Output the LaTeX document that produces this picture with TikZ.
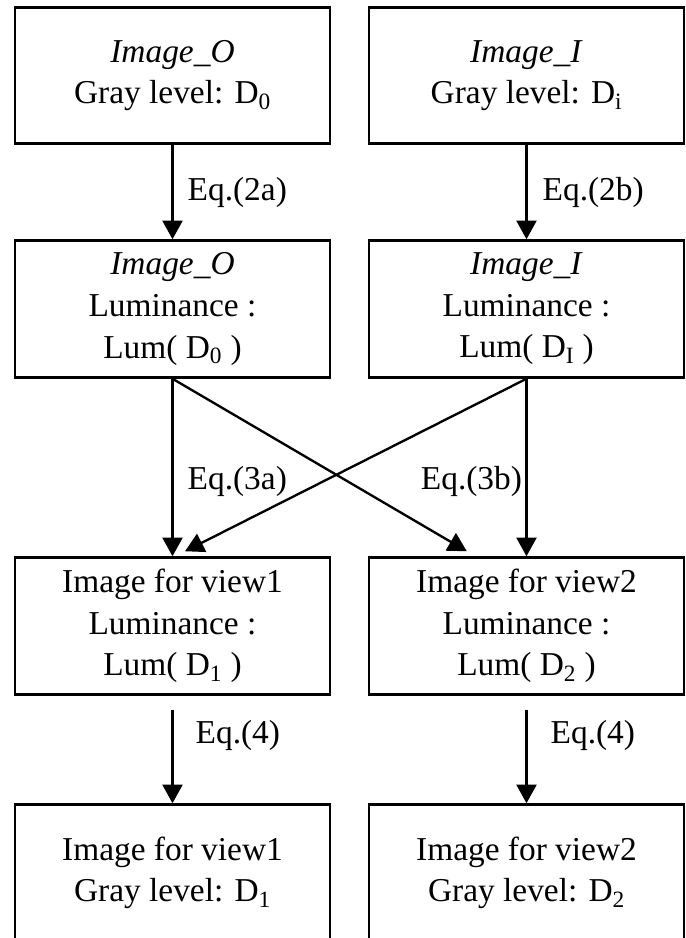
\documentclass[tikz,border=0pt]{standalone}
\usepackage{fontspec}
\setmainfont{Liberation Serif}
\usetikzlibrary{arrows.meta,calc}

\begin{document}
\begin{tikzpicture}[
      box/.style={draw, line width=2.4pt, align=center, inner sep=0pt, minimum width=9.45cm, minimum height=4.1cm, font=\fontsize{28.5}{35.5}\selectfont},
      eq/.style={inner sep=0pt, font=\fontsize{28.5}{35.5}\selectfont},
      arr/.style={-{Triangle[length=0.56cm,width=0.6cm]}, line width=2pt}
    ]
    \path[use as bounding box, clip] (0,0) rectangle (20.58,28.14);
    \node[box] (go) at (5.175,25.875) {\textit{Image\_O}\\Gray level: D\textsubscript{0}};
    \node[box] (gi) at (15.795,25.875) {\textit{Image\_I}\\Gray level: D\textsubscript{i}};
    \node[box] (lo) at (5.175,18.87) {\textit{Image\_O}\\Luminance :\\Lum( D\textsubscript{0} )};
    \node[box] (li) at (15.795,18.87) {\textit{Image\_I}\\Luminance :\\Lum( D\textsubscript{I} )};
    \node[box] (l1) at (5.175,9.36) {Image for view1\\Luminance :\\Lum( D\textsubscript{1} )};
    \node[box] (l2) at (15.795,9.36) {Image for view2\\Luminance :\\Lum( D\textsubscript{2} )};
    \node[box] (g1) at (5.175,1.95) {Image for view1\\Gray level: D\textsubscript{1}};
    \node[box] (g2) at (15.795,1.95) {Image for view2\\Gray level: D\textsubscript{2}};
    \coordinate (t1) at ($(l1.north)+(0.375,0.15)$);
    \coordinate (t2) at ($(l2.north)+(-1.79,0.15)$);
    \draw[arr] (go) -- node[eq, right=0.42cm] {Eq.(2a)} (lo); \draw[arr] (gi) -- node[eq, right=0.45cm] {Eq.(2b)} (li);
    \draw[arr] (lo) -- node[eq, right=0.42cm, pos=0.58] {Eq.(3a)} (l1); \draw[arr] (li) -- node[eq, left=0.1cm, pos=0.58] {Eq.(3b)} (l2);
    \draw[arr] (lo.south) -- (t2); \draw[arr] (li.south) -- (t1);
    \draw[arr, shorten <=0.42cm] (l1) -- node[eq, right=0.66cm, pos=0.37] {Eq.(4)} (g1);
    \draw[arr, shorten <=0.42cm] (l2) -- node[eq, right=0.69cm, pos=0.37] {Eq.(4)} (g2);
  \end{tikzpicture}
\end{document}
